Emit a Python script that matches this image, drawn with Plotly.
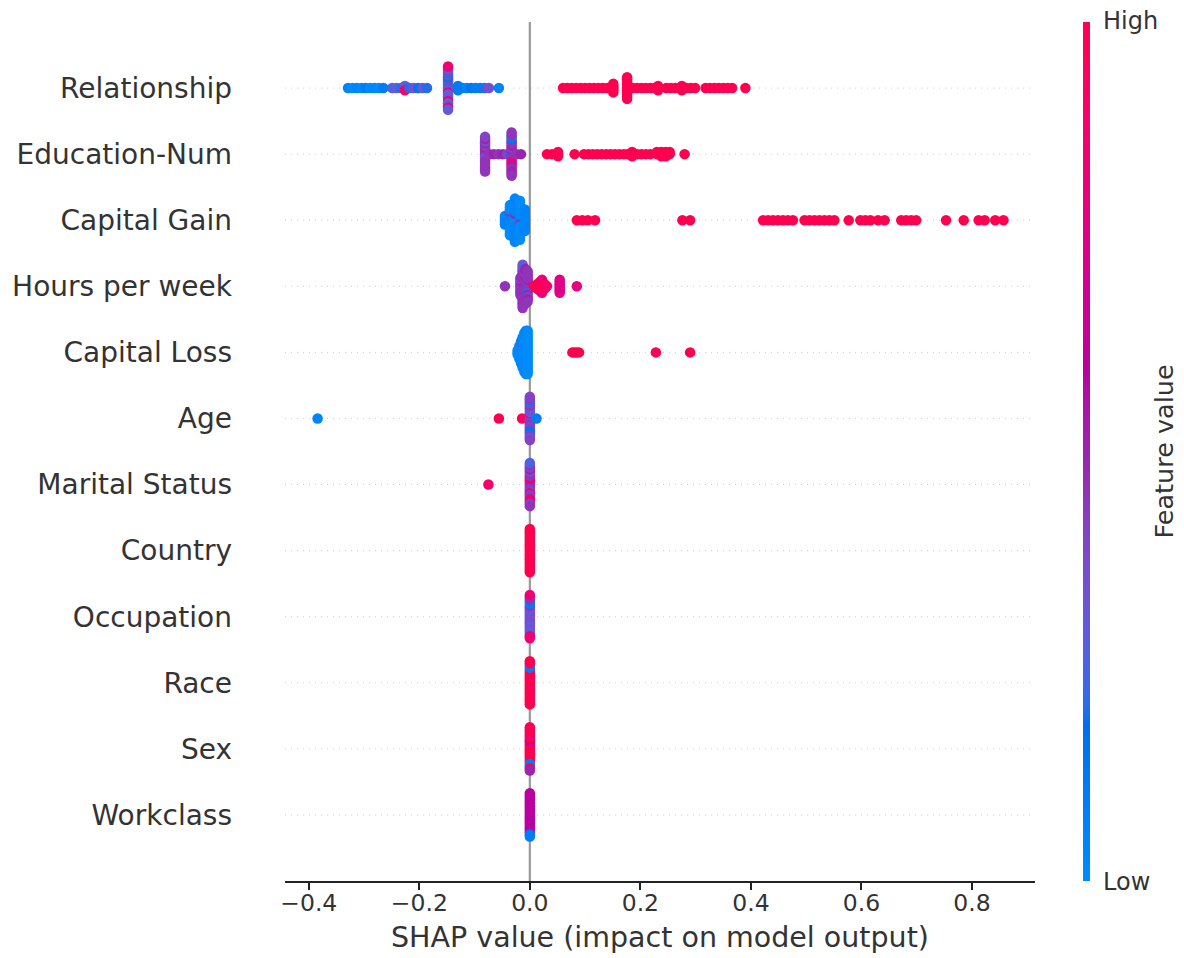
import numpy as np
import plotly.graph_objects as go

# Features from top row to bottom row
FEATURES = ["Relationship", "Education-Num", "Capital Gain", "Hours per week",
            "Capital Loss", "Age", "Marital Status", "Country", "Occupation",
            "Race", "Sex", "Workclass"]

X_TICKS = [-0.4, -0.2, 0.0, 0.2, 0.4, 0.6, 0.8]
X_TICK_TEXT = ["\u22120.4", "\u22120.2", "0.0", "0.2", "0.4", "0.6", "0.8"]

# Each entry: (SHAP value, number of samples at that value, normalised feature value 0=low 1=high)
RELATIONSHIP = [
    (-0.329, 1, 0.05), (-0.321, 1, 0.0), (-0.313, 1, 0.05), (-0.305, 1, 0.0),
    (-0.297, 1, 0.1), (-0.289, 1, 0.0), (-0.281, 1, 0.05), (-0.273, 1, 0.0),
    (-0.265, 1, 0.1), (-0.249, 1, 0.25), (-0.241, 1, 0.3), (-0.233, 1, 0.2),
    (-0.226, 1, 0.85), (-0.226, 1, 0.3), (-0.226, 1, 0.9), (-0.218, 1, 0.2),
    (-0.210, 1, 0.35), (-0.202, 1, 0.15), (-0.194, 1, 0.3), (-0.186, 1, 0.2),
    (-0.148, 1, 0.85), (-0.148, 1, 0.3), (-0.148, 1, 0.25), (-0.148, 1, 0.35),
    (-0.148, 1, 0.85), (-0.148, 1, 0.2), (-0.148, 1, 0.3), (-0.148, 1, 0.4),
    (-0.148, 1, 0.3), (-0.148, 1, 0.15), (-0.148, 1, 0.3), (-0.148, 1, 0.35),
    (-0.148, 1, 0.85), (-0.148, 1, 0.2), (-0.148, 1, 0.3), (-0.148, 1, 0.4),
    (-0.148, 1, 0.25), (-0.148, 1, 0.3), (-0.148, 1, 0.85), (-0.148, 1, 0.85),
    (-0.148, 1, 0.3),
    (-0.130, 3, 0.1), (-0.122, 1, 0.1), (-0.114, 1, 0.05), (-0.106, 1, 0.15),
    (-0.098, 1, 0.1), (-0.090, 1, 0.1), (-0.082, 1, 0.2), (-0.074, 1, 0.35),
    (-0.056, 1, 0.05),
    (0.060, 1, 1.0), (0.068, 1, 1.0), (0.076, 1, 1.0), (0.084, 1, 1.0),
    (0.092, 1, 1.0), (0.100, 1, 1.0), (0.108, 1, 1.0), (0.116, 1, 1.0),
    (0.124, 1, 1.0), (0.132, 1, 1.0), (0.140, 1, 1.0), (0.151, 5, 1.0),
    (0.176, 11, 1.0), (0.186, 1, 1.0), (0.194, 1, 1.0), (0.202, 1, 1.0),
    (0.210, 1, 1.0), (0.218, 1, 1.0), (0.226, 1, 1.0), (0.232, 3, 1.0),
    (0.247, 1, 1.0), (0.255, 1, 1.0), (0.263, 1, 1.0), (0.275, 3, 1.0),
    (0.283, 1, 1.0), (0.291, 1, 1.0), (0.299, 1, 1.0), (0.318, 1, 1.0),
    (0.326, 1, 1.0), (0.334, 1, 1.0), (0.342, 1, 1.0), (0.350, 1, 1.0),
    (0.358, 1, 1.0), (0.366, 1, 1.0), (0.390, 1, 1.0),
]

EDUCATION_NUM = [
    (-0.081, 1, 0.45), (-0.081, 1, 0.5), (-0.081, 1, 0.4), (-0.081, 1, 0.45),
    (-0.081, 1, 0.35), (-0.081, 1, 0.5), (-0.081, 1, 0.45), (-0.081, 1, 0.4),
    (-0.081, 1, 0.45), (-0.081, 1, 0.5), (-0.081, 1, 0.45), (-0.081, 1, 0.35),
    (-0.081, 1, 0.45), (-0.081, 1, 0.5), (-0.081, 1, 0.45), (-0.081, 1, 0.4),
    (-0.081, 1, 0.45),
    (-0.073, 1, 0.45), (-0.065, 1, 0.5), (-0.057, 1, 0.45), (-0.049, 1, 0.5),
    (-0.041, 1, 0.4),
    (-0.033, 1, 0.2), (-0.033, 1, 0.45), (-0.033, 1, 0.15), (-0.033, 1, 0.5),
    (-0.033, 1, 0.45), (-0.033, 1, 0.4), (-0.033, 1, 0.45), (-0.033, 1, 0.5),
    (-0.033, 1, 0.85), (-0.033, 1, 0.45), (-0.033, 1, 0.8), (-0.033, 1, 0.45),
    (-0.033, 1, 0.5), (-0.033, 1, 0.15), (-0.033, 1, 0.45), (-0.033, 1, 0.2),
    (-0.033, 1, 0.5), (-0.033, 1, 0.45), (-0.033, 1, 0.5), (-0.033, 1, 0.45),
    (-0.033, 1, 0.45),
    (-0.024, 1, 0.45), (-0.016, 1, 0.5),
    (0.031, 1, 1.0), (0.040, 1, 1.0), (0.051, 3, 1.0), (0.081, 1, 1.0),
    (0.098, 1, 1.0), (0.106, 1, 1.0), (0.114, 1, 1.0), (0.122, 1, 1.0),
    (0.130, 1, 1.0), (0.138, 1, 1.0), (0.146, 1, 1.0), (0.154, 1, 1.0),
    (0.162, 1, 1.0), (0.170, 1, 1.0), (0.177, 1, 1.0), (0.185, 3, 1.0),
    (0.194, 1, 1.0), (0.202, 1, 1.0), (0.210, 1, 1.0), (0.218, 1, 1.0),
    (0.230, 2, 1.0), (0.238, 3, 1.0), (0.246, 3, 1.0), (0.253, 2, 1.0),
    (0.280, 1, 1.0),
]

CAPITAL_GAIN = [
    (-0.045, 5, 0.05),
    (-0.036, 7, 0.05), (-0.036, 1, 0.45), (-0.036, 7, 0.0),
    (-0.027, 5, 0.0), (-0.027, 1, 0.5), (-0.027, 15, 0.05),
    (-0.018, 4, 0.05), (-0.018, 1, 0.45), (-0.018, 14, 0.0),
    (-0.009, 11, 0.05),
    (0.085, 1, 1.0), (0.095, 1, 1.0), (0.105, 1, 1.0), (0.118, 1, 1.0),
    (0.276, 1, 1.0), (0.290, 1, 1.0),
    (0.422, 1, 1.0), (0.431, 1, 1.0), (0.440, 1, 1.0), (0.449, 1, 1.0),
    (0.458, 1, 1.0), (0.467, 1, 1.0), (0.476, 1, 1.0),
    (0.497, 1, 1.0), (0.506, 1, 1.0), (0.515, 1, 1.0), (0.524, 1, 1.0),
    (0.533, 1, 1.0), (0.542, 1, 1.0), (0.551, 1, 1.0),
    (0.577, 1, 1.0), (0.598, 1, 1.0), (0.607, 1, 1.0), (0.616, 1, 1.0),
    (0.630, 1, 1.0), (0.642, 1, 1.0),
    (0.672, 1, 1.0), (0.681, 1, 1.0), (0.690, 1, 1.0), (0.699, 1, 1.0),
    (0.753, 1, 1.0), (0.785, 1, 1.0), (0.812, 1, 1.0), (0.823, 1, 1.0),
    (0.842, 1, 1.0), (0.857, 1, 1.0),
]

HOURS_PER_WEEK = [
    (-0.045, 1, 0.45),
    (-0.017, 1, 0.45), (-0.017, 1, 0.35), (-0.017, 1, 0.45), (-0.017, 1, 0.5),
    (-0.017, 1, 0.45), (-0.017, 1, 0.3), (-0.017, 3, 0.45),
    (-0.013, 1, 0.2), (-0.013, 2, 0.45), (-0.013, 1, 0.5), (-0.013, 1, 0.45),
    (-0.013, 1, 0.4), (-0.013, 1, 0.45), (-0.013, 1, 0.5), (-0.013, 2, 0.45),
    (-0.013, 1, 0.5), (-0.013, 1, 0.45), (-0.013, 1, 0.4), (-0.013, 1, 0.45),
    (-0.013, 1, 0.5), (-0.013, 2, 0.45), (-0.013, 1, 0.25), (-0.013, 1, 0.5),
    (-0.013, 1, 0.3), (-0.013, 1, 0.45),
    (-0.008, 1, 0.45), (-0.008, 1, 0.5), (-0.008, 1, 0.45), (-0.008, 1, 0.5),
    (-0.008, 1, 0.45), (-0.008, 1, 0.4), (-0.008, 1, 0.45), (-0.008, 1, 0.5),
    (-0.008, 1, 0.45), (-0.008, 1, 0.5), (-0.008, 1, 0.45), (-0.008, 1, 0.4),
    (-0.008, 1, 0.45), (-0.008, 1, 0.5), (-0.008, 1, 0.45), (-0.008, 1, 0.5),
    (-0.008, 1, 0.45),
    (-0.004, 1, 0.45), (-0.004, 1, 0.5), (-0.004, 1, 0.45), (-0.004, 1, 0.4),
    (-0.004, 1, 0.45), (-0.004, 1, 0.5), (-0.004, 1, 0.2), (-0.004, 1, 0.45),
    (-0.004, 1, 0.5), (-0.004, 1, 0.45), (-0.004, 1, 0.4), (-0.004, 1, 0.45),
    (-0.004, 1, 0.5), (-0.004, 2, 0.45),
    (0.007, 1, 0.95), (0.013, 3, 1.0), (0.018, 5, 1.0), (0.022, 5, 1.0),
    (0.022, 2, 0.8), (0.027, 3, 1.0), (0.031, 1, 0.9), (0.054, 7, 0.75),
    (0.085, 1, 0.8),
]

CAPITAL_LOSS = [
    (-0.022, 3, 0.05), (-0.019, 7, 0.0), (-0.016, 11, 0.05),
    (-0.013, 7, 0.0), (-0.013, 1, 0.4), (-0.013, 7, 0.05),
    (-0.010, 19, 0.0), (-0.007, 21, 0.05), (-0.004, 21, 0.0),
    (0.077, 1, 1.0), (0.081, 1, 1.0), (0.085, 1, 1.0), (0.089, 1, 1.0),
    (0.228, 1, 1.0), (0.290, 1, 1.0),
]

AGE = [
    (-0.384, 1, 0.05), (-0.056, 1, 1.0), (-0.014, 1, 0.95),
    (0.0, 1, 0.9), (0.0, 1, 0.4), (0.0, 1, 0.35), (0.0, 1, 0.85),
    (0.0, 1, 0.4), (0.0, 1, 0.3), (0.0, 1, 0.45), (0.0, 1, 0.35),
    (0.0, 1, 0.4), (0.0, 1, 0.3), (0.0, 1, 0.4), (0.0, 1, 0.45),
    (0.0, 1, 0.15), (0.0, 1, 0.4), (0.0, 1, 0.15), (0.0, 1, 0.1),
    (0.0, 1, 0.4), (0.0, 1, 0.45), (0.0, 1, 0.35), (0.0, 1, 0.4),
    (0.0, 1, 0.4),
    (0.012, 1, 0.1),
]

MARITAL_STATUS = [
    (-0.075, 1, 0.9),
    (0.0, 1, 0.45), (0.0, 1, 0.4), (0.0, 1, 0.45), (0.0, 1, 0.85),
    (0.0, 1, 0.45), (0.0, 1, 0.85), (0.0, 1, 0.4), (0.0, 1, 0.45),
    (0.0, 1, 0.85), (0.0, 1, 0.45), (0.0, 1, 0.4), (0.0, 1, 0.35),
    (0.0, 1, 0.45), (0.0, 1, 0.5), (0.0, 1, 0.85), (0.0, 1, 0.4),
    (0.0, 1, 0.85), (0.0, 1, 0.45), (0.0, 1, 0.4), (0.0, 1, 0.25),
    (0.0, 1, 0.45),
]

COUNTRY = [
    (0.0, 21, 1.0),
]

OCCUPATION = [
    (0.0, 1, 0.85), (0.0, 1, 0.35), (0.0, 1, 0.3), (0.0, 1, 0.4),
    (0.0, 1, 0.35), (0.0, 1, 0.3), (0.0, 1, 0.4), (0.0, 1, 0.35),
    (0.0, 1, 0.3), (0.0, 1, 0.45), (0.0, 1, 0.3), (0.0, 1, 0.1),
    (0.0, 1, 0.35), (0.0, 1, 0.1), (0.0, 1, 0.3), (0.0, 1, 0.45),
    (0.0, 1, 0.3), (0.0, 1, 0.45), (0.0, 1, 0.85), (0.0, 1, 0.85),
    (0.0, 1, 0.85),
]

RACE = [
    (0.0, 13, 1.0), (0.0, 1, 0.1), (0.0, 1, 1.0), (0.0, 1, 0.1), (0.0, 5, 1.0),
]

SEX = [
    (0.0, 7, 1.0), (0.0, 1, 0.6), (0.0, 5, 1.0), (0.0, 1, 0.8), (0.0, 1, 0.1),
    (0.0, 1, 1.0), (0.0, 1, 0.1), (0.0, 3, 1.0), (0.0, 1, 0.5),
]

WORKCLASS = [
    (0.0, 18, 0.6), (0.0, 1, 0.1), (0.0, 1, 0.6), (0.0, 1, 0.1),
]

ROWS = [RELATIONSHIP, EDUCATION_NUM, CAPITAL_GAIN, HOURS_PER_WEEK, CAPITAL_LOSS,
        AGE, MARITAL_STATUS, COUNTRY, OCCUPATION, RACE, SEX, WORKCLASS]


def lch_to_rgb(l, c, h):
    """CIE LCh(ab) -> sRGB (D65), clipped to [0, 1]."""
    a, b = c * np.cos(h), c * np.sin(h)
    fy = (l + 16) / 116
    fx, fz = fy + a / 500, fy - b / 200

    def finv(t):
        return t ** 3 if t ** 3 > 0.008856 else (t - 16 / 116) / 7.787

    X, Y, Z = 0.95047 * finv(fx), finv(fy), 1.08883 * finv(fz)
    lin = [3.2406 * X - 1.5372 * Y - 0.4986 * Z,
           -0.9689 * X + 1.8758 * Y + 0.0415 * Z,
           0.0557 * X - 0.2040 * Y + 1.0570 * Z]
    out = []
    for u in lin:
        u = min(max(u, 0.0), 1.0)
        out.append(1.055 * u ** (1 / 2.4) - 0.055 if u > 0.0031308 else 12.92 * u)
    return out


def red_blue_scale(steps=100):
    """Blue -> purple -> red map interpolated in LCh space."""
    ls = list(np.linspace(54.0, 40.0, steps // 2)) + list(np.linspace(40.0, 54.0, steps // 2))
    cs = np.linspace(70.0, 90.0, steps)
    hs = np.linspace(4.6588, 0.35470565 + 2 * np.pi, steps)
    scale = []
    for pos, l, c, h in zip(np.linspace(0, 1, steps), ls, cs, hs):
        r, g, b = lch_to_rgb(l, c, h)
        scale.append([float(pos), f"rgb({round(r*255)},{round(g*255)},{round(b*255)})"])
    return scale


def swarm_offsets(values, row_height=0.4, nbins=100):
    """Stack samples that fall into the same value bin, alternating up and down."""
    v = np.asarray(values, dtype=float)
    quant = np.round(nbins * (v - v.min()) / (v.max() - v.min() + 1e-8))
    order = np.argsort(quant, kind="stable")
    ys = np.zeros(len(v))
    layer, last = 0, None
    for i in order:
        if quant[i] != last:
            layer = 0
        ys[i] = np.ceil(layer / 2) * ((layer % 2) * 2 - 1)
        layer += 1
        last = quant[i]
    return ys * 0.9 * (row_height / np.max(ys + 1))


n_rows = len(FEATURES)
positions = list(range(n_rows - 1, -1, -1))

xs, ys, cs = [], [], []
for rows, pos in zip(ROWS, positions):
    shap = np.concatenate([np.full(n, v) for v, n, _ in rows])
    level = np.concatenate([np.full(n, c) for _, n, c in rows])
    xs.append(shap)
    ys.append(pos + swarm_offsets(shap))
    cs.append(level)

X_RANGE = [-0.443, 0.914]

fig = go.Figure()

for pos in positions:
    fig.add_shape(type="line", xref="paper", x0=0, x1=1, yref="y", y0=pos, y1=pos,
                  line=dict(color="#cccccc", width=1, dash="1px,5px"), layer="below")
fig.add_shape(type="line", xref="x", x0=0, x1=0, yref="paper", y0=0, y1=1,
              line=dict(color="#999999", width=2.2), layer="below")

fig.add_trace(go.Scatter(
    x=np.concatenate(xs), y=np.concatenate(ys), mode="markers",
    marker=dict(size=10.5, color=np.concatenate(cs), colorscale=red_blue_scale(),
                cmin=0, cmax=1, line=dict(width=0),
                colorbar=dict(thickness=7, len=1, lenmode="fraction", y=0.5,
                              yanchor="middle", ypad=0, x=1.064, xanchor="left",
                              xpad=0, outlinewidth=0, showticklabels=False,
                              ticks="", title=dict(text=""))),
    hoverinfo="skip", showlegend=False,
))

fig.add_annotation(text="High", xref="paper", yref="paper", x=1.088, y=1.0012,
                   xanchor="left", yanchor="middle", showarrow=False,
                   font=dict(size=24, color="#333333"))
fig.add_annotation(text="Low", xref="paper", yref="paper", x=1.088, y=-0.001,
                   xanchor="left", yanchor="middle", showarrow=False,
                   font=dict(size=24, color="#333333"))
fig.add_annotation(text="Feature value", xref="paper", yref="paper", x=1.1707, y=0.5,
                   xanchor="center", yanchor="middle", textangle=-90, showarrow=False,
                   font=dict(size=25.5, color="#333333"))

fig.update_layout(
    width=1184, height=958,
    margin=dict(l=285, r=149, t=22, b=77, autoexpand=False),
    paper_bgcolor="white", plot_bgcolor="white",
    font=dict(family="DejaVu Sans", color="#333333"),
    xaxis=dict(range=X_RANGE, tickvals=X_TICKS, ticktext=X_TICK_TEXT,
               showgrid=False, zeroline=False, showline=True, linecolor="#222222",
               linewidth=1.7, ticks="outside", ticklen=7.5, tickwidth=1.7,
               tickcolor="#222222", tickfont=dict(size=23.5, color="#333333"),
               ticklabelstandoff=-8, automargin=False,
               title=dict(text="SHAP value (impact on model output)",
                          font=dict(size=28.5, color="#333333"), standoff=12)),
    yaxis=dict(range=[-1, n_rows], tickvals=positions, ticktext=FEATURES,
               showgrid=False, zeroline=False, showline=False, ticks="",
               ticklabelstandoff=52, automargin=False,
               tickfont=dict(size=28, color="#333333")),
)

fig.write_html("out.html")
